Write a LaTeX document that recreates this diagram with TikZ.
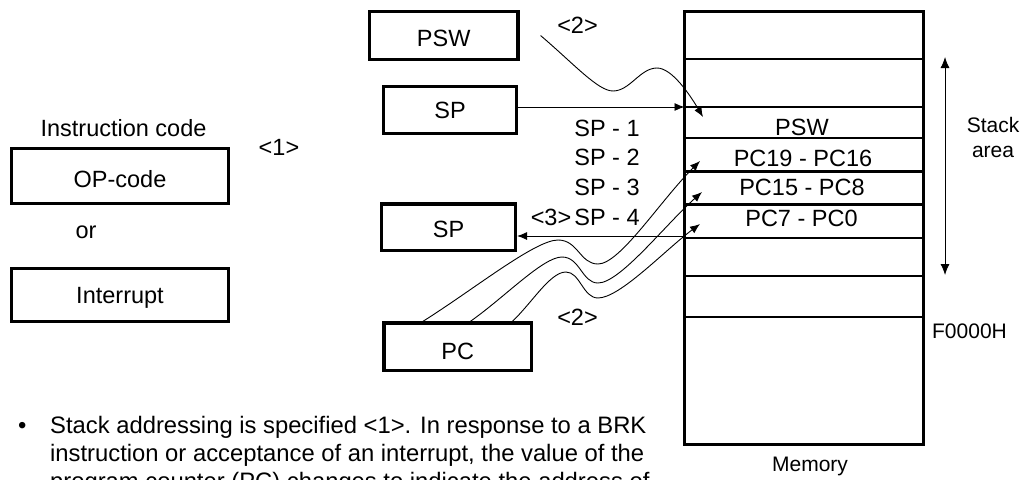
\documentclass[tikz,border=0pt]{standalone}
\usepackage{fontspec}
\setmainfont{Liberation Sans}
\usetikzlibrary{arrows.meta,calc}
\begin{document}
\begin{tikzpicture}[x=1pt,y=-1pt,
  box/.style={draw, line width=3.1pt, inner sep=0pt, font=\fontsize{23.5}{28}\selectfont, text depth=0pt},
  lbl/.style={inner sep=0pt, font=\fontsize{23.5}{28}\selectfont},
  slbl/.style={inner sep=0pt, font=\fontsize{21}{25}\selectfont},
  conn/.style={line width=0.9pt, -{Latex[length=10pt,width=8pt]}},
  dconn/.style={line width=0.9pt, {Latex[length=11pt,width=9pt]}-{Latex[length=11pt,width=9pt]}},
  septhin/.style={line width=1.2pt},
  septhick/.style={line width=2.5pt}]
\useasboundingbox (0,0) rectangle (1024,479);
\fill[white] (0,0) rectangle (1024,479);

% left side
\node[lbl, anchor=base] (instr) at (123.5,136) {Instruction code};
\node[box, minimum width=217pt, minimum height=55pt, text height=22pt] (opcode) at (120,176) {OP-code};
\node[lbl, anchor=base] (orl) at (86,238) {or};
\node[box, minimum width=217pt, minimum height=53pt, text height=16pt] (intr) at (120,295) {Interrupt};
\node[lbl, anchor=base] (lab1) at (279,155) {<1>};

% registers
\node[box, minimum width=148.5pt, minimum height=48pt, text height=22pt] (pswbox) at (443.75,35.5) {PSW};
\node[box, minimum width=133pt, minimum height=47pt, text height=16pt] (spa) at (450,110) {SP};
\node[box, minimum width=134pt, minimum height=46.5pt, text height=19.5pt] (spb) at (448.5,227.25) {SP};
\node[box, minimum width=147.5pt, minimum height=47.5pt, text height=24.5pt] (pc) at (457.75,346.75) {PC};

% memory
\node[draw, line width=3.1pt, inner sep=0pt, minimum width=239pt, minimum height=433pt] (mem) at (804,228) {};
\draw[septhin] (684.5,59) -- (923.5,59);
\draw[septhin] (684.5,107) -- (923.5,107);
\draw[septhick] (684.5,138) -- (923.5,138);
\draw[septhick] (684.5,171.5) -- (923.5,171.5);
\draw[septhick] (684.5,204.5) -- (923.5,204.5);
\draw[septhin] (684.5,238) -- (923.5,238);
\draw[septhin] (684.5,276) -- (923.5,276);
\draw[septhin] (684.5,317) -- (923.5,317);
\node[lbl, anchor=base] (mpsw) at (802,135.8) {PSW};
\node[lbl, anchor=base] (mpc19) at (803,166) {PC19 - PC16};
\node[lbl, anchor=base] (mpc15) at (802,195) {PC15 - PC8};
\node[lbl, anchor=base] (mpc7) at (801.5,226.7) {PC7 - PC0};

\node[slbl, anchor=base] (stk) at (993,132) {Stack};
\node[slbl, anchor=base] (area) at (993,157) {area};
\node[slbl, anchor=base] (f0) at (969.5,338) {F0000H};
\node[slbl, anchor=base] (memlbl) at (810,471) {Memory};

% middle labels
\node[lbl, anchor=base] (sp1l) at (607,136) {SP - 1};
\node[lbl, anchor=base] (sp2l) at (607,165.5) {SP - 2};
\node[lbl, anchor=base] (sp3l) at (607,195) {SP - 3};
\node[lbl, anchor=base] (sp4l) at (607,225.5) {SP - 4};
\node[lbl, anchor=base] (lab3) at (551,225.5) {<3>};
\node[lbl, anchor=base] (lab2a) at (577.5,33) {<2>};
\node[lbl, anchor=base] (lab2b) at (577.5,325) {<2>};

% coordinates
\coordinate (pswstart) at ($(pswbox.east)+(21,0)$);
\coordinate (tpsw) at (703,117);
\coordinate (spin) at (684.5,107);
\coordinate (spout) at (684.5,236);
\coordinate (pa) at ($(pc.north)+(-35,0)$);
\coordinate (pb) at ($(pc.north)+(12.5,0)$);
\coordinate (pcc) at ($(pc.north)+(54.5,0)$);
\coordinate (t19) at (700,161);
\coordinate (t15) at (702,192);
\coordinate (t7) at (700,224);
\coordinate (stop) at (945,57);
\coordinate (sbot) at (945,275);

% connectors
\draw[conn] (pswstart) .. controls (574,64) and (598,91) .. (613,91)
  .. controls (630,91) and (640,68) .. (657,68)
  .. controls (672,68) and (690,95) .. (tpsw);
\draw[conn] (spa.east |- spin) -- (spin);
\draw[conn] (spout) -- (spb.east |- spout);
\draw[conn] (pa) .. controls (473,290) and (535,240) .. (558,240)
  .. controls (578,240) and (580,264) .. (598,264)
  .. controls (620,264) and (660,201) .. (t19);
\draw[conn] (pb) .. controls (505,297) and (543,257) .. (562,257)
  .. controls (580,257) and (582,283) .. (598,283)
  .. controls (620,283) and (665,225) .. (t15);
\draw[conn] (pcc) .. controls (532,303) and (550,272) .. (566,272)
  .. controls (580,272) and (583,298) .. (598,298)
  .. controls (620,298) and (665,250) .. (t7);
\draw[dconn] (stop) -- (sbot);

% bullet text (base anchor = last line)
\node[anchor=base west, align=left, inner sep=0pt, font=\fontsize{23.8}{28}\selectfont] (note) at (18,489)
  {\makebox[32pt][l]{\textbullet}Stack addressing is specified <1>. In response to a BRK\\
   \hspace*{32pt}instruction or acceptance of an interrupt, the value of the\\
   \hspace*{32pt}program counter (PC) changes to indicate the address of};
\end{tikzpicture}
\end{document}
